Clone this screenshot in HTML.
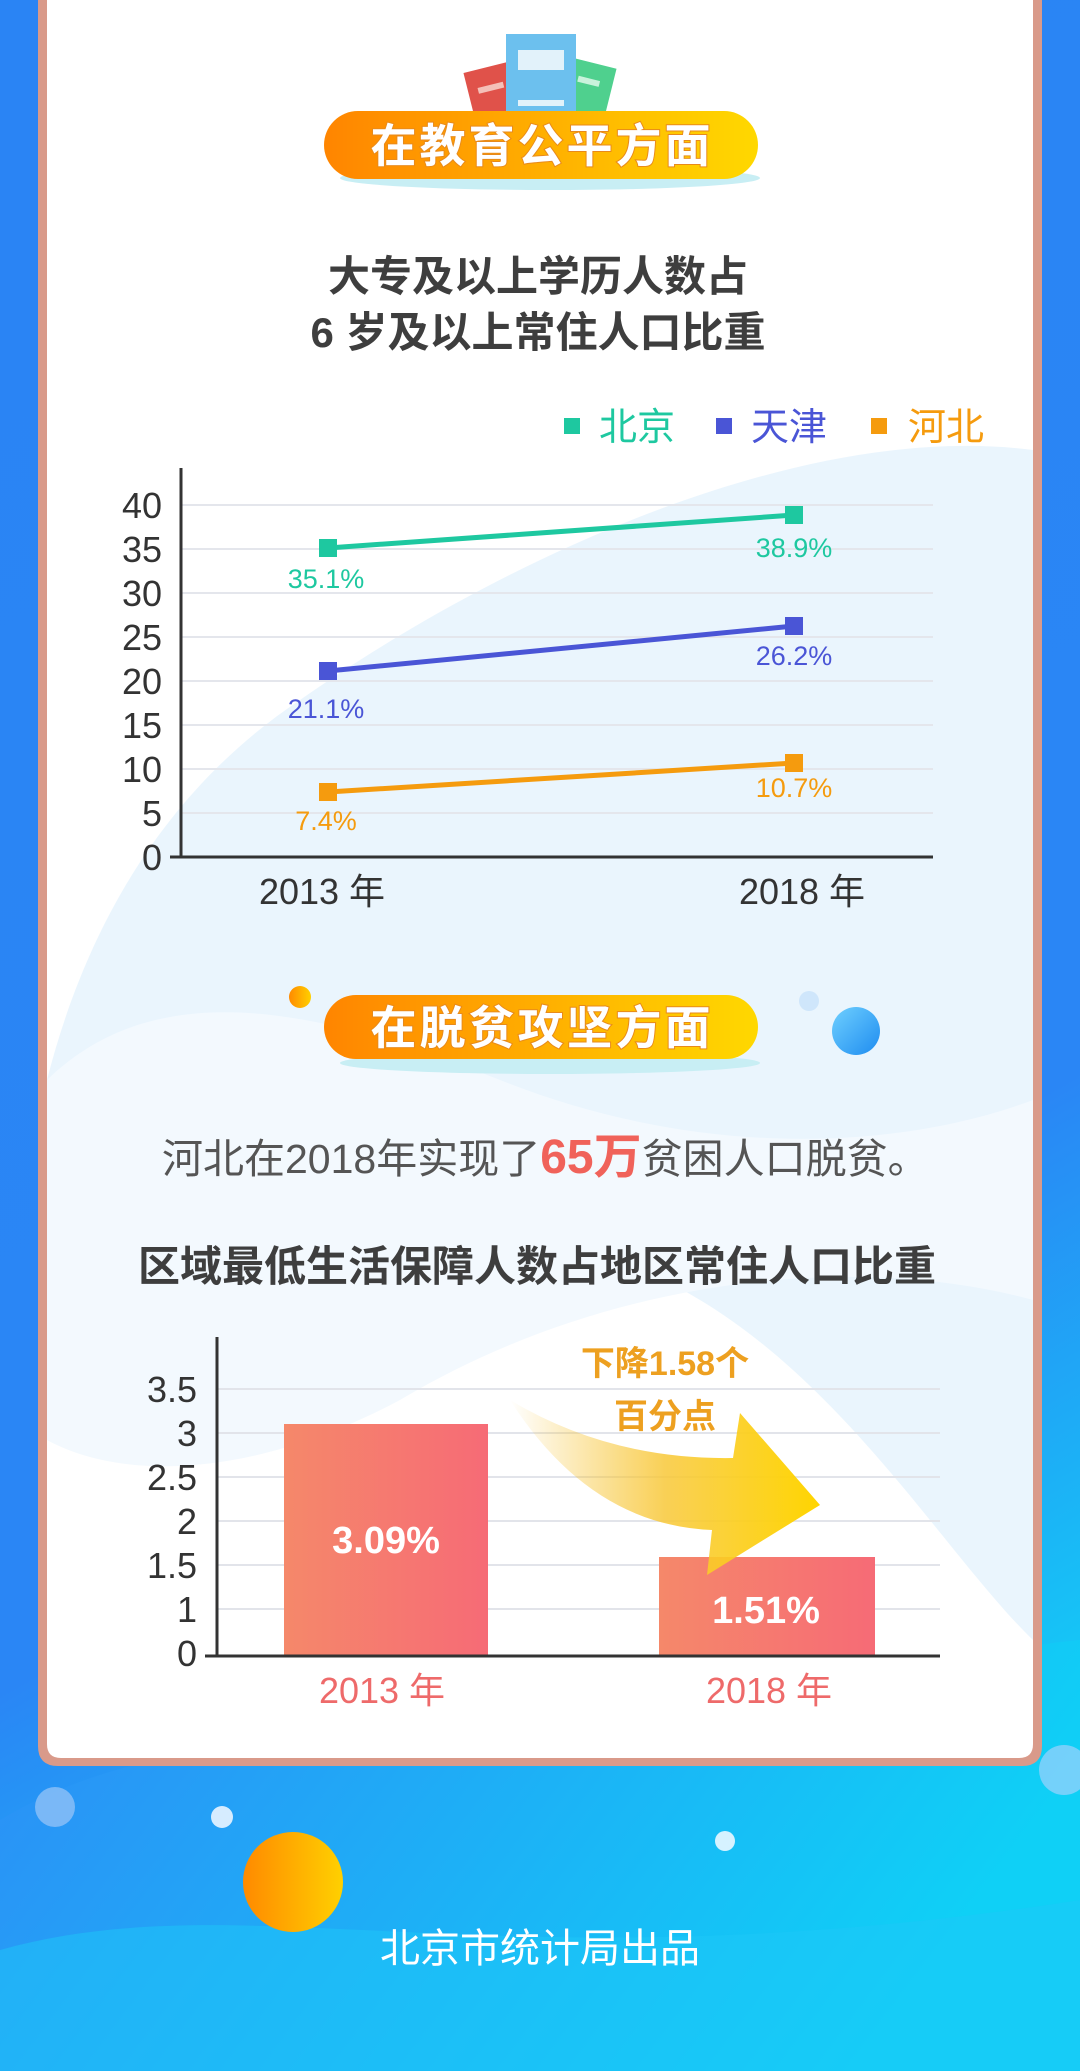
<!DOCTYPE html>
<html><head><meta charset="utf-8"><style>
html,body{margin:0;padding:0;width:1080px;height:2071px;overflow:hidden;}
svg{display:block}
text{font-family:"Liberation Sans","Noto Sans CJK SC",sans-serif;}
</style></head><body>
<svg width="1080" height="2071" viewBox="0 0 1080 2071" xmlns="http://www.w3.org/2000/svg">
<defs>
<linearGradient id="bg" x1="0" y1="0" x2="0.3" y2="1">
<stop offset="0" stop-color="#2a84f4"/><stop offset="0.75" stop-color="#2a86f5"/><stop offset="1" stop-color="#16c4f6"/></linearGradient>
<linearGradient id="bg2" x1="0" y1="0" x2="1" y2="0.3">
<stop offset="0" stop-color="#2d8cf6"/><stop offset="1" stop-color="#0fd0f6"/></linearGradient>
<linearGradient id="pill" x1="0" y1="0" x2="1" y2="0">
<stop offset="0" stop-color="#ff8500"/><stop offset="1" stop-color="#ffd800"/></linearGradient>
<linearGradient id="bar" x1="0" y1="0" x2="1" y2="0">
<stop offset="0" stop-color="#f5886a"/><stop offset="1" stop-color="#f66b76"/></linearGradient>
<linearGradient id="arr" x1="510" y1="0" x2="820" y2="0" gradientUnits="userSpaceOnUse">
<stop offset="0" stop-color="#f5c030" stop-opacity="0"/><stop offset="0.5" stop-color="#f8c838" stop-opacity="0.85"/><stop offset="1" stop-color="#ffd500"/></linearGradient>
<linearGradient id="orb" x1="0" y1="0" x2="1" y2="0">
<stop offset="0" stop-color="#ff8a00"/><stop offset="1" stop-color="#ffd000"/></linearGradient>
<linearGradient id="bdot" x1="0" y1="0" x2="1" y2="1">
<stop offset="0" stop-color="#6fd0ff"/><stop offset="1" stop-color="#1e8cf0"/></linearGradient>
</defs>
<rect width="1080" height="2071" fill="url(#bg)"/>
<path d="M0,1820 C200,1700 450,1760 650,1740 C850,1720 950,1650 1080,1640 L1080,2071 L0,2071 Z" fill="url(#bg2)"/>
<path d="M0,1950 C250,1880 500,1990 1080,1900 L1080,2071 L0,2071Z" fill="#1ec8f7" opacity="0.5"/>
<!-- card -->
<path d="M38,0 L1042,0 L1042,1746 Q1042,1766 1022,1766 L58,1766 Q38,1766 38,1746 Z" fill="#d99a8a"/>
<path d="M47,0 L1033,0 L1033,1744 Q1033,1758 1019,1758 L61,1758 Q47,1758 47,1744 Z" fill="#ffffff"/>
<path d="M1033,450 C800,420 500,560 300,700 C150,800 80,950 47,1080 L47,1300 C200,1200 450,1150 700,1300 C850,1390 950,1560 1033,1640 Z" fill="#e6f3fd" opacity="0.85"/>
<path d="M47,1080 C150,980 300,1000 500,1080 C700,1160 900,1150 1033,1100 L1033,1300 C850,1250 600,1280 400,1400 C250,1480 120,1480 47,1440Z" fill="#f3f9fe"/>
<!-- books -->
<g>
<rect x="470" y="66" width="50" height="60" fill="#e0524a" transform="rotate(-14 495 96)"/>
<rect x="480" y="84" width="26" height="6" fill="#f4c0b8" transform="rotate(-14 495 96)"/>
<rect x="562" y="62" width="48" height="60" fill="#4fd08e" transform="rotate(14 586 92)"/>
<rect x="575" y="78" width="22" height="6" fill="#c9f2dc" transform="rotate(14 586 92)"/>
<rect x="506" y="34" width="70" height="90" fill="#6cc0ee"/>
<rect x="518" y="50" width="46" height="20" fill="#e2f2fa"/>
<rect x="518" y="100" width="46" height="6" fill="#e2f2fa"/>
</g>
<!-- pill 1 -->
<ellipse cx="550" cy="178" rx="210" ry="12" fill="#c8eef4"/>
<rect x="324" y="111" width="434" height="68" rx="34" fill="url(#pill)"/>
<text x="542" y="162" text-anchor="middle" font-size="46" font-weight="bold" fill="#fff" letter-spacing="3" style="paint-order:stroke" stroke="#e88a1a" stroke-width="2">在教育公平方面</text>
<!-- title 1 -->
<text x="538" y="291" text-anchor="middle" font-size="42" font-weight="bold" fill="#3e3e3e">大专及以上学历人数占</text>
<text x="538" y="347" text-anchor="middle" font-size="42" font-weight="bold" fill="#3e3e3e">6 岁及以上常住人口比重</text>
<!-- legend -->
<rect x="564" y="418" width="16" height="16" fill="#1ec8a0"/>
<text x="599" y="440" font-size="38" fill="#1ec8a0">北京</text>
<rect x="716" y="418" width="16" height="16" fill="#4a55d6"/>
<text x="751" y="440" font-size="38" fill="#4a55d6">天津</text>
<rect x="871" y="418" width="16" height="16" fill="#f59b0e"/>
<text x="908" y="440" font-size="38" fill="#f59b0e">河北</text>
<!-- line chart -->
<g stroke="#e4e6ec" stroke-width="2">
<line x1="181" y1="505" x2="933" y2="505"/><line x1="181" y1="549" x2="933" y2="549"/>
<line x1="181" y1="593" x2="933" y2="593"/><line x1="181" y1="637" x2="933" y2="637"/>
<line x1="181" y1="681" x2="933" y2="681"/><line x1="181" y1="725" x2="933" y2="725"/>
<line x1="181" y1="769" x2="933" y2="769"/><line x1="181" y1="813" x2="933" y2="813"/>
</g>
<line x1="181" y1="468" x2="181" y2="858" stroke="#333" stroke-width="3"/>
<line x1="170" y1="857" x2="933" y2="857" stroke="#333" stroke-width="3"/>
<g font-size="36" fill="#333" text-anchor="end">
<text x="162" y="518">40</text><text x="162" y="562">35</text><text x="162" y="606">30</text>
<text x="162" y="650">25</text><text x="162" y="694">20</text><text x="162" y="738">15</text>
<text x="162" y="782">10</text><text x="162" y="826">5</text><text x="162" y="870">0</text>
</g>
<line x1="328" y1="548" x2="794" y2="515" stroke="#1ec8a0" stroke-width="5"/>
<line x1="328" y1="671" x2="794" y2="626" stroke="#4a55d6" stroke-width="5"/>
<line x1="328" y1="792" x2="794" y2="763" stroke="#f59b0e" stroke-width="5"/>
<rect x="319" y="539" width="18" height="18" fill="#1ec8a0"/><rect x="785" y="506" width="18" height="18" fill="#1ec8a0"/>
<rect x="319" y="662" width="18" height="18" fill="#4a55d6"/><rect x="785" y="617" width="18" height="18" fill="#4a55d6"/>
<rect x="319" y="783" width="18" height="18" fill="#f59b0e"/><rect x="785" y="754" width="18" height="18" fill="#f59b0e"/>
<g font-size="27" text-anchor="middle">
<text x="326" y="588" fill="#1ec8a0">35.1%</text><text x="794" y="557" fill="#1ec8a0">38.9%</text>
<text x="326" y="718" fill="#4a55d6">21.1%</text><text x="794" y="665" fill="#4a55d6">26.2%</text>
<text x="326" y="830" fill="#f59b0e">7.4%</text><text x="794" y="797" fill="#f59b0e">10.7%</text>
</g>
<text x="322" y="904" text-anchor="middle" font-size="36" fill="#333">2013 年</text>
<text x="802" y="904" text-anchor="middle" font-size="36" fill="#333">2018 年</text>
<!-- pill 2 -->
<circle cx="300" cy="997" r="11" fill="url(#orb)"/>
<circle cx="809" cy="1001" r="10" fill="#cfe6fb"/>
<circle cx="856" cy="1031" r="24" fill="url(#bdot)"/>
<ellipse cx="550" cy="1063" rx="210" ry="11" fill="#c8eef4"/>
<rect x="324" y="995" width="434" height="64" rx="32" fill="url(#pill)"/>
<text x="542" y="1044" text-anchor="middle" font-size="46" font-weight="bold" fill="#fff" letter-spacing="3" style="paint-order:stroke" stroke="#e88a1a" stroke-width="2">在脱贫攻坚方面</text>
<text x="162" y="1173" font-size="41" fill="#555">河北在2018年实现了<tspan font-size="48" font-weight="bold" fill="#f0625a">65万</tspan>贫困人口脱贫。</text>
<text x="537" y="1281" text-anchor="middle" font-size="42" font-weight="bold" fill="#3e3e3e">区域最低生活保障人数占地区常住人口比重</text>
<!-- bar chart -->
<g stroke="#e2e4ea" stroke-width="2">
<line x1="217" y1="1389" x2="940" y2="1389"/><line x1="217" y1="1433" x2="940" y2="1433"/>
<line x1="217" y1="1477" x2="940" y2="1477"/><line x1="217" y1="1521" x2="940" y2="1521"/>
<line x1="217" y1="1565" x2="940" y2="1565"/><line x1="217" y1="1609" x2="940" y2="1609"/>
</g>
<g font-size="36" fill="#333" text-anchor="end">
<text x="197" y="1402">3.5</text><text x="197" y="1446">3</text><text x="197" y="1490">2.5</text>
<text x="197" y="1534">2</text><text x="197" y="1578">1.5</text><text x="197" y="1622">1</text><text x="197" y="1666">0</text>
</g>
<rect x="284" y="1424" width="204" height="232" fill="url(#bar)"/>
<rect x="659" y="1557" width="216" height="99" fill="url(#bar)"/>
<path d="M510,1400 Q610,1460 733,1458 L740,1413 L820,1505 L707,1575 L712,1530 Q590,1525 510,1400 Z" fill="url(#arr)"/>
<line x1="217" y1="1337" x2="217" y2="1657" stroke="#333" stroke-width="3"/>
<line x1="205" y1="1656" x2="940" y2="1656" stroke="#333" stroke-width="3"/>
<text x="386" y="1553" text-anchor="middle" font-size="38" font-weight="bold" fill="#fff">3.09%</text>
<text x="766" y="1623" text-anchor="middle" font-size="38" font-weight="bold" fill="#fff">1.51%</text>
<text x="665" y="1375" text-anchor="middle" font-size="34" font-weight="bold" fill="#eda020">下降1.58个</text>
<text x="665" y="1428" text-anchor="middle" font-size="34" font-weight="bold" fill="#eda020">百分点</text>
<text x="382" y="1703" text-anchor="middle" font-size="36" fill="#ee6a6a">2013 年</text>
<text x="769" y="1703" text-anchor="middle" font-size="36" fill="#ee6a6a">2018 年</text>
<!-- footer -->
<circle cx="55" cy="1807" r="20" fill="#8ec0f8" opacity="0.8"/>
<circle cx="222" cy="1817" r="11" fill="#d6ecff"/>
<circle cx="725" cy="1841" r="10" fill="#d6f2ff"/>
<circle cx="1064" cy="1770" r="25" fill="#7fd0fb" opacity="0.9"/>
<circle cx="293" cy="1882" r="50" fill="url(#orb)"/>
<text x="540" y="1962" text-anchor="middle" font-size="40" fill="#fff">北京市统计局出品</text>
</svg>
</body></html>
